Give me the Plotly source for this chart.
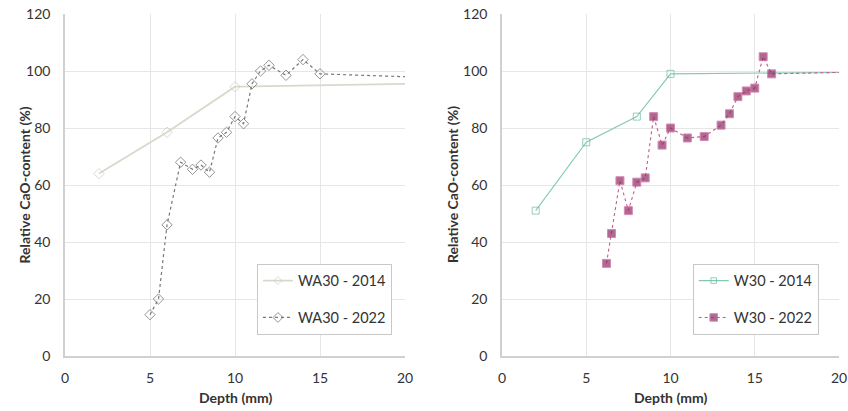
import plotly.graph_objects as go

# Left panel: WA30
wa_2014_x = [2, 6, 10, 20]
wa_2014_y = [64, 78.5, 94.5, 95.5]
wa_2022_x = [5, 5.5, 6, 6.8, 7.5, 8, 8.5, 9, 9.5, 10, 10.5, 11, 11.5, 12, 13, 14, 15, 20]
wa_2022_y = [14.5, 20, 46, 68, 65.5, 67, 64.5, 76.5, 78.5, 84, 81.5, 95.5, 100, 102, 98.5, 104, 99, 98]

# Right panel: W30
w_2014_x = [2, 5, 8, 10, 20]
w_2014_y = [51, 75, 84, 99, 99.5]
w_2022_x = [6.2, 6.5, 7, 7.5, 8, 8.5, 9, 9.5, 10, 11, 12, 13, 13.5, 14, 14.5, 15, 15.5, 16, 20]
w_2022_y = [32.5, 43, 61.5, 51, 61, 62.5, 84, 74, 80, 76.5, 77, 81, 85, 91, 93, 94, 105, 99, 99.5]

x_ticks = [0, 5, 10, 15, 20]
y_ticks = [0, 20, 40, 60, 80, 100, 120]

FONT = "Lato, 'Noto Sans', sans-serif"
TXT = "#333333"

def sizes(n, s):
    return [s] * (n - 1) + [0]

fig = go.Figure()
fig.add_trace(go.Scatter(x=wa_2014_x, y=wa_2014_y, name="WA30 - 2014", mode="lines+markers",
                         line=dict(color="#d6dacb", width=1.8), legendgroup="a",
                         marker=dict(symbol="diamond-open", size=sizes(len(wa_2014_x), 8), color="#c9ccbf", line=dict(width=1)),
                         xaxis="x", yaxis="y", legend="legend"))
fig.add_trace(go.Scatter(x=wa_2022_x, y=wa_2022_y, name="WA30 - 2022", mode="lines+markers",
                         line=dict(color="#777777", width=1.2, dash="dot"), legendgroup="b",
                         marker=dict(symbol="diamond-open", size=sizes(len(wa_2022_x), 8), color="#666666", line=dict(width=1)),
                         xaxis="x", yaxis="y", legend="legend"))
fig.add_trace(go.Scatter(x=w_2014_x, y=w_2014_y, name="W30 - 2014", mode="lines+markers",
                         line=dict(color="#84c8b2", width=1.1), legendgroup="c",
                         marker=dict(symbol="square-open", size=sizes(len(w_2014_x), 7), color="#6ab8a0", line=dict(width=1)),
                         xaxis="x2", yaxis="y2", legend="legend2"))
fig.add_trace(go.Scatter(x=w_2022_x, y=w_2022_y, name="W30 - 2022", mode="lines+markers",
                         line=dict(color="#c65a92", width=1.1, dash="dot"), legendgroup="d",
                         marker=dict(symbol="square", size=sizes(len(w_2022_x), 8), color="#8e2a62"),
                         xaxis="x2", yaxis="y2", legend="legend2"))

axis_common = dict(showgrid=True, gridcolor="#e6e6e6", gridwidth=1, zeroline=False,
                   showline=True, linecolor="#d0d0d0", linewidth=1.5, automargin=False,
                   ticks="", tickfont=dict(size=14, color=TXT, family=FONT))
xcommon = dict(axis_common, range=[0, 20], tickvals=x_ticks, ticklabelstandoff=8)
ycommon = dict(axis_common, range=[0, 120], tickvals=y_ticks, ticklabelstandoff=10)

# margins so that the plot area spans px 65..839 horizontally and 14..356 vertically
fig.update_layout(
    width=848, height=411,
    margin=dict(l=65, r=9, t=14, b=55, autoexpand=False),
    paper_bgcolor="white", plot_bgcolor="white",
    font=dict(family=FONT),
    xaxis=dict(xcommon, domain=[0.0, 0.4393], anchor="y"),
    yaxis=dict(ycommon, domain=[0.0, 1.0], anchor="x"),
    xaxis2=dict(xcommon, domain=[0.5646, 1.0], anchor="y2"),
    yaxis2=dict(ycommon, domain=[0.0, 1.0], anchor="x2"),
    legend=dict(x=0.248, y=0.27, xanchor="left", yanchor="top", bordercolor="#c8c8c8", borderwidth=1,
                bgcolor="white", font=dict(size=14.5, color=TXT, family=FONT), tracegroupgap=15,
                traceorder="grouped"),
    legend2=dict(x=0.811, y=0.27, xanchor="left", yanchor="top", bordercolor="#c8c8c8", borderwidth=1,
                 bgcolor="white", font=dict(size=14.5, color=TXT, family=FONT), tracegroupgap=15,
                 traceorder="grouped"),
    showlegend=True,
    annotations=[
        dict(text="<b>Depth (mm)</b>", xref="x domain", yref="paper", x=0.5, y=-0.12, yanchor="middle",
             showarrow=False, font=dict(size=14, color=TXT, family=FONT)),
        dict(text="<b>Depth (mm)</b>", xref="x2 domain", yref="paper", x=0.5, y=-0.12, yanchor="middle",
             showarrow=False, font=dict(size=14, color=TXT, family=FONT)),
        dict(text="<b>Relative CaO-content (%)</b>", xref="paper", yref="paper", x=-0.066, y=0.5,
             textangle=-90, showarrow=False, font=dict(size=14, color=TXT, family=FONT)),
        dict(text="<b>Relative CaO-content (%)</b>", xref="paper", yref="paper", x=0.5, y=0.5,
             textangle=-90, showarrow=False, font=dict(size=14, color=TXT, family=FONT)),
    ],
)

fig.write_html("out.html")
